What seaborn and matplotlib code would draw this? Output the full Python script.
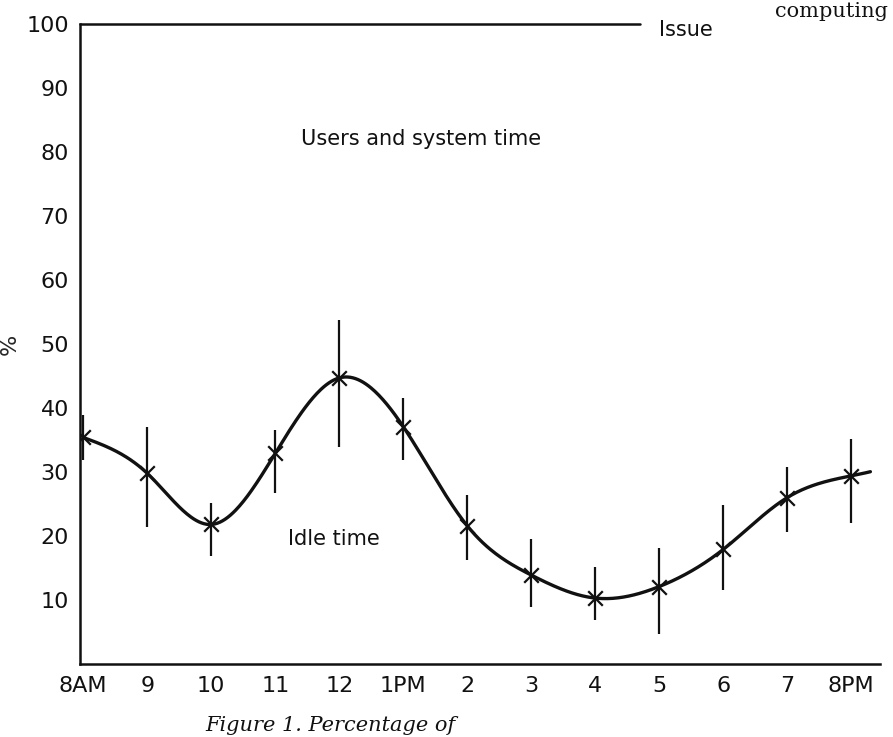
import numpy as np
import pandas as pd
import matplotlib
matplotlib.use("Agg")
import matplotlib.pyplot as plt
import seaborn as sns

# ---- data ----
hour_labels = ["8AM", "9", "10", "11", "12", "1PM", "2", "3", "4", "5", "6", "7", "8PM"]
hours = [0, 1, 2, 3, 4, 5, 6, 7, 8, 9, 10, 11, 12]
idle = [35.4, 29.8, 21.8, 32.9, 44.7, 37.1, 21.6, 13.9, 10.3, 12.1, 17.9, 26.0, 29.4]
idle_low = [31.8, 21.4, 16.9, 26.7, 33.9, 31.8, 16.2, 8.9, 6.8, 4.7, 11.5, 20.7, 22.0]
idle_high = [38.9, 37.1, 25.2, 36.5, 53.8, 41.5, 26.4, 19.5, 15.1, 18.2, 24.9, 30.8, 35.2]
y_ticks = [10, 20, 30, 40, 50, 60, 70, 80, 90, 100]
issue_level = 100
issue_end_hour = 8.7
curve_end_hour = 12.3

sns.set_theme(style="white")
plt.rcParams["font.family"] = ["DejaVu Sans"]


def natural_cubic_spline(x, y, xs):
    x = np.asarray(x, float)
    y = np.asarray(y, float)
    n = len(x)
    h = np.diff(x)
    A = np.zeros((n, n))
    b = np.zeros(n)
    A[0, 0] = 1
    A[-1, -1] = 1
    for i in range(1, n - 1):
        A[i, i - 1] = h[i - 1]
        A[i, i] = 2 * (h[i - 1] + h[i])
        A[i, i + 1] = h[i]
        b[i] = 6 * ((y[i + 1] - y[i]) / h[i] - (y[i] - y[i - 1]) / h[i - 1])
    M = np.linalg.solve(A, b)
    idx = np.clip(np.searchsorted(x, xs) - 1, 0, n - 2)
    x0, x1 = x[idx], x[idx + 1]
    hh = x1 - x0
    t0 = x1 - xs
    t1 = xs - x0
    return (M[idx] * t0 ** 3 / (6 * hh) + M[idx + 1] * t1 ** 3 / (6 * hh)
            + (y[idx] / hh - M[idx] * hh / 6) * t0
            + (y[idx + 1] / hh - M[idx + 1] * hh / 6) * t1)


xs = np.linspace(hours[0], curve_end_hour, 600)
curve = pd.DataFrame({"hour": xs, "pct": natural_cubic_spline(hours, idle, xs)})
pts = pd.DataFrame({"hour": hours, "pct": idle, "lo": idle_low, "hi": idle_high})

fig = plt.figure(figsize=(8.93, 7.37), dpi=100)
ax = fig.add_axes([80 / 893, 73 / 737, 800 / 893, 640 / 737])

ink = "#111111"
sns.lineplot(data=curve, x="hour", y="pct", ax=ax, color=ink, linewidth=2.4)
ax.vlines(pts["hour"], pts["lo"], pts["hi"], color=ink, linewidth=1.6)
sns.scatterplot(data=pts, x="hour", y="pct", ax=ax, marker="x", s=110,
                color=ink, linewidth=1.6, zorder=5)

# "Issue" line along the 100% level
ax.plot([-0.05, issue_end_hour], [issue_level, issue_level], color=ink,
        linewidth=1.8, clip_on=False)
ax.text(issue_end_hour + 0.3, issue_level - 1.0, "Issue", fontsize=15,
        va="center", ha="left", color=ink)

ax.text(3.4, 82, "Users and system time", fontsize=15, va="center", ha="left",
        color=ink)
ax.text(3.2, 19.5, "Idle time", fontsize=15, va="center", ha="left", color=ink)

ax.set_xlim(-0.05, 12.45)
ax.set_ylim(0, 100)
ax.set_xticks(hours)
ax.set_xticklabels(hour_labels)
ax.set_yticks(y_ticks)
ax.set_xlabel("")
ax.set_ylabel("%", fontsize=16, rotation=90)
ax.yaxis.set_label_coords(-0.075, 0.5)

for side in ["top", "right"]:
    ax.spines[side].set_visible(False)
for side in ["left", "bottom"]:
    ax.spines[side].set_color(ink)
    ax.spines[side].set_linewidth(1.8)

ax.tick_params(axis="both", direction="in", length=11, width=1.5, colors=ink,
               labelsize=16)
ax.tick_params(axis="y", pad=8)
ax.tick_params(axis="x", pad=9)
ax.grid(False)

# surrounding page text (caption below, running head top right)
fig.text(205 / 893, 6 / 737, "Figure 1. Percentage of", fontsize=15,
         family="DejaVu Serif", style="italic", va="baseline", ha="left",
         color=ink)
fig.text(888 / 893, (737 - 17) / 737, "computing", fontsize=15,
         family="DejaVu Serif", va="baseline", ha="right", color=ink)

fig.savefig("out.png", dpi=100, facecolor="white")
